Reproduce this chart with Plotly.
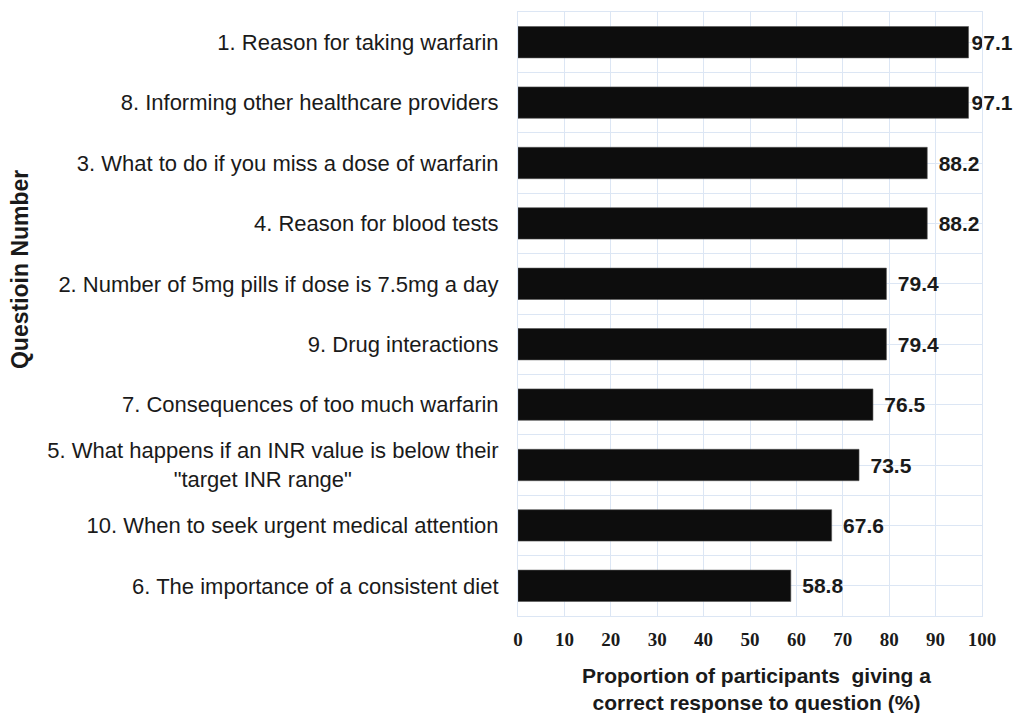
import plotly.graph_objects as go

questions = [
    "1. Reason for taking warfarin",
    "8. Informing other healthcare providers",
    "3. What to do if you miss a dose of warfarin",
    "4. Reason for blood tests",
    "2. Number of 5mg pills if dose is 7.5mg a day",
    "9. Drug interactions",
    "7. Consequences of too much warfarin",
    "5. What happens if an INR value is below their<br>\"target INR range\"" + "\u00a0" * 24,
    "10. When to seek urgent medical attention",
    "6. The importance of a consistent diet",
]
values = [97.1, 97.1, 88.2, 88.2, 79.4, 79.4, 76.5, 73.5, 67.6, 58.8]
x_ticks = [0, 10, 20, 30, 40, 50, 60, 70, 80, 90, 100]
x_title = "Proportion of participants  giving a<br>correct response to question (%)"
y_title = "Questioin Number"

n = len(questions)
positions = list(range(n))
labels_text = [("" if v > 95 else "\u2009\u2009") + f"{v:.1f}" for v in values]

GRID = "#dce6f4"
TXT = "#1a1a1a"

fig = go.Figure(go.Bar(
    x=values,
    y=positions,
    orientation="h",
    marker=dict(color="#0d0d0d", line=dict(color="#555555", width=0.6)),
    width=0.52,
    text=labels_text,
    textposition="outside",
    cliponaxis=False,
    textfont=dict(family="Liberation Sans", size=21, color=TXT, weight="bold"),
))

fig.update_layout(
    width=1013, height=713,
    margin=dict(l=518, r=31, t=12, b=97),
    plot_bgcolor="white", paper_bgcolor="white",
    showlegend=False,
    font=dict(family="Liberation Sans", color=TXT),
    uniformtext=dict(mode=False),
)

fig.update_xaxes(
    range=[0, 100], tickvals=x_ticks, ticktext=[str(t) for t in x_ticks],
    showgrid=True, gridcolor=GRID, gridwidth=1,
    zeroline=False, showline=True, linecolor=GRID, mirror=True,
    ticks="", ticklabelstandoff=6, automargin=False,
    tickfont=dict(family="Liberation Serif", size=19, color=TXT, weight="bold"),
)

fig.update_yaxes(
    range=[n - 0.5, -0.5], tickvals=positions, ticktext=questions,
    showgrid=True, gridcolor=GRID, gridwidth=1,
    minor=dict(tick0=0.5, dtick=1, showgrid=True, gridcolor=GRID, gridwidth=1),
    zeroline=False, showline=True, linecolor=GRID, mirror=True,
    ticks="", ticklabelstandoff=14, automargin=False,
    tickfont=dict(family="Liberation Sans", size=22, color=TXT),
)

fig.add_annotation(
    text=x_title,
    xref="paper", yref="paper", x=0.515, y=-0.1209,
    xanchor="center", yanchor="middle", showarrow=False,
    font=dict(family="Liberation Sans", size=21, color=TXT, weight="bold"),
)

fig.add_annotation(
    text=y_title, textangle=-90,
    xref="paper", yref="paper", x=-1.073, y=0.573,
    xanchor="center", yanchor="middle", showarrow=False,
    font=dict(family="Liberation Sans", size=23, color=TXT, weight="bold"),
)

fig.write_html("out.html")
